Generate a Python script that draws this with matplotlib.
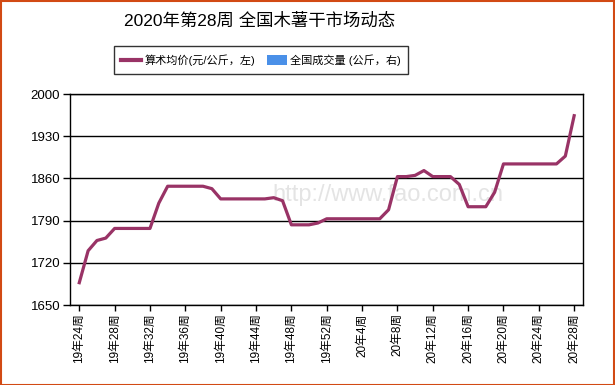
import matplotlib
matplotlib.use("Agg")
import matplotlib.pyplot as plt
from matplotlib.patches import Patch, Rectangle
from matplotlib.lines import Line2D

plt.rcParams['font.family'] = ['Liberation Sans', 'Noto Sans CJK SC', 'DejaVu Sans']

# weeks: 19年24周 .. 19年52周, 20年1周 .. 20年28周
weeks = [f"19年{w}周" for w in range(24, 53)] + [f"20年{w}周" for w in range(1, 29)]
price = [1687, 1740, 1757, 1761, 1777, 1777, 1777, 1777, 1777, 1819,
         1847, 1847, 1847, 1847, 1847, 1843, 1826, 1826, 1826, 1826,
         1826, 1826, 1828, 1823, 1783, 1783, 1783, 1786, 1793, 1793,
         1793, 1793, 1793, 1793, 1793, 1808, 1863, 1863, 1865, 1873,
         1863, 1863, 1863, 1850, 1813, 1813, 1813, 1837, 1884, 1884,
         1884, 1884, 1884, 1884, 1884, 1897, 1964]
yticks = [1650, 1720, 1790, 1860, 1930, 2000]
title = "2020年第28周 全国木薯干市场动态"
label_price = "算术均价(元/公斤，左)"
label_volume = "全国成交量 (公斤，右)"

W, H = 615, 385
fig = plt.figure(figsize=(W / 100, H / 100), dpi=100)
ax = fig.add_axes([70 / W, 1 - 305 / H, (583 - 70) / W, (305 - 94) / H])

x = list(range(len(weeks)))
ax.text(0.62, 0.52, "http://www.fao.com.cn", transform=ax.transAxes, fontsize=17,
        color='#e4e4e4', ha='center', va='center', zorder=1)
ax.plot(x, price, color='#993366', lw=2.3, zorder=3, solid_joinstyle='round')

ax.set_ylim(1650, 2000)
ax.set_yticks(yticks)
ax.set_xlim(-1.05, len(weeks) - 1 + 1.0)
ticks = list(range(0, len(weeks), 4))
ax.set_xticks(ticks)
ax.set_xticklabels([weeks[i] for i in ticks], rotation=90, fontsize=8.5)
ax.tick_params(axis='y', labelsize=9.5, length=5, width=1, pad=2)
ax.tick_params(axis='x', length=4, width=1, pad=2)
ax.grid(axis='y', color='black', lw=1)
ax.set_axisbelow(True)
for s in ax.spines.values():
    s.set_color('black')
    s.set_linewidth(1)

handles = [Line2D([0], [0], color='#993366', lw=3),
           Patch(facecolor='#4a90e8', edgecolor='none')]
leg = fig.legend(handles, [label_price, label_volume], loc='center',
                 bbox_to_anchor=(261 / W, 1 - 60 / H), ncol=2, fontsize=8,
                 frameon=True, fancybox=False, edgecolor='black',
                 handlelength=1.8, handleheight=0.9, columnspacing=1.0,
                 borderpad=0.7, handletextpad=0.3)
leg.get_frame().set_linewidth(1)

fig.text(260 / W, 1 - 21 / H, title, ha='center', va='center', fontsize=12.5)

fig.patches.append(Rectangle((0.5 / W, 0.5 / H), 1 - 1.5 / W, 1 - 1.5 / H,
                             transform=fig.transFigure, fill=False,
                             edgecolor='#d24a14', lw=1.5))

fig.savefig("out.png", dpi=100)
